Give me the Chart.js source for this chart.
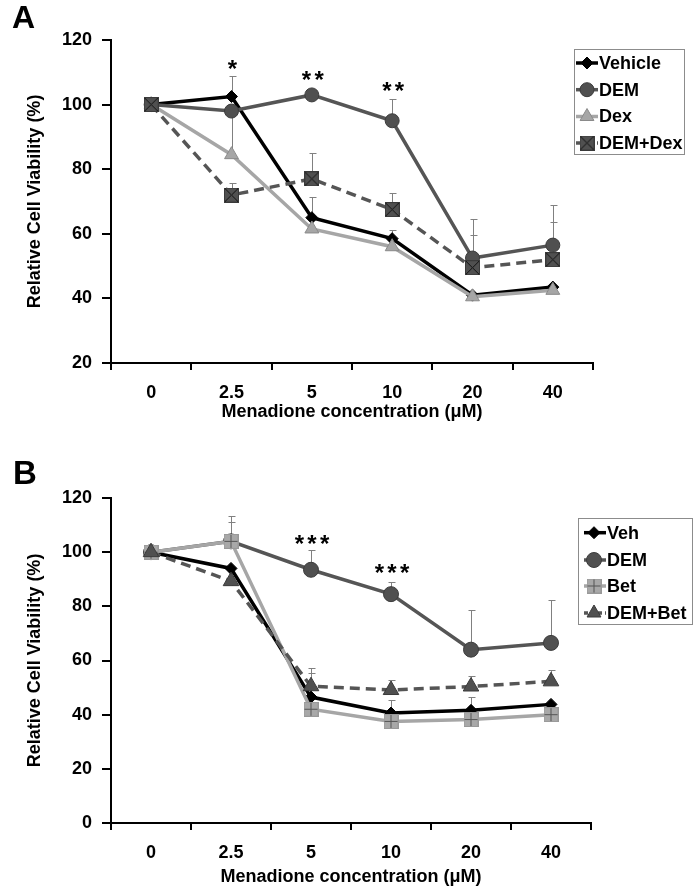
<!DOCTYPE html>
<html>
<head>
<meta charset="utf-8">
<script src="https://cdn.jsdelivr.net/npm/chart.js@4.4.1/dist/chart.umd.min.js"></script>
<style>
  html, body { margin: 0; padding: 0; background: #fff; }
  body { width: 693px; height: 893px; position: relative; overflow: hidden; }
  .panel { position: absolute; left: 0; }
  .letter { position: absolute; font-weight: bold; line-height: 32px; color: #000; }
</style>
</head>
<body>
<div class="panel" style="top:0px"><canvas id="chartA" width="693" height="440"></canvas></div>
<div class="panel" style="top:455px"><canvas id="chartB" width="693" height="438"></canvas></div>
<div class="letter" id="letA" style="left:12px; top:1px; font-size:32px;">A</div>
<div class="letter" id="letB" style="left:13px; top:457px; font-size:33px;">B</div>
<script>
// ---------------- DATA ----------------
const concentrations = ['0', '2.5', '5', '10', '20', '40'];

// Panel A
const vehicleA     = [100, 102.5, 65, 58.5, 41, 43.5];
const vehicleAErr  = [0, 6.5, 6.5, 2.7, 0, 0];
const demA         = [100, 98, 103, 95, 52.5, 56.5];
const demAErr      = [0, 0, 0, 6.7, 12, 12.5];
const dexA         = [100, 84.5, 61.5, 56, 40.5, 42.5];
const dexAErr      = [0, 14, 0, 0, 0, 0];
const demDexA      = [100, 72, 77, 67.5, 49.5, 52];
const demDexAErr   = [0, 3.7, 8, 5.2, 10.2, 11.6];
const starsA       = ['', '*', '**', '**', '', ''];
const starLevelA   = [null, 113, 109.6, 106.2, null, null];

// Panel B
const vehB         = [100, 94, 46.5, 40.6, 41.6, 43.8];
const vehBErr      = [0, 0, 9, 4.7, 5, 0];
const demB         = [100, 104, 93.5, 84.5, 64, 66.5];
const demBErr      = [0, 7.2, 7.2, 4.5, 14.6, 15.8];
const betB         = [100, 104, 42, 37.5, 38.2, 40];
const betBErr      = [0, 9.3, 0, 0, 0, 0];
const demBetB      = [100, 89.3, 50.5, 49.1, 50.4, 52.3];
const demBetBErr   = [0, 0, 6.7, 3.7, 4, 4.3];
const starsB       = ['', '', '***', '***', '', ''];
const starLevelB   = [null, null, 105.4, 94.6, null, null];

// ---------------- FONT CHOICE ----------------
function hasFont(name) {
  const g = document.createElement('canvas').getContext('2d');
  const s = 'DEM+Dex Vehicle 120';
  g.font = 'bold 50px monospace';
  const a = g.measureText(s).width;
  g.font = 'bold 50px "' + name + '", monospace';
  const b = g.measureText(s).width;
  return Math.abs(a - b) > 0.5;
}
const NARROW = hasFont('Liberation Sans Narrow');
const FAMILY = NARROW ? '"Liberation Sans Narrow", "Liberation Sans", sans-serif' : '"Liberation Sans", Arial, sans-serif';
const SZ_TICK = NARROW ? 20 : 18;
const SZ_TITLE = NARROW ? 21 : 18;
const SZ_LEG = NARROW ? 20 : 18;
document.getElementById('letA').style.fontFamily = FAMILY;
document.getElementById('letB').style.fontFamily = FAMILY;
if (NARROW) {
  document.getElementById('letA').style.fontSize = '34px';
  document.getElementById('letB').style.fontSize = '35px';
}

const DARK = '#555555';
const LIGHT = '#a6a6a6';

function markerCanvas(size, fill, border, mark, markColor) {
  const c = document.createElement('canvas');
  c.width = size; c.height = size;
  const g = c.getContext('2d');
  g.fillStyle = fill;
  g.fillRect(0, 0, size, size);
  g.strokeStyle = border; g.lineWidth = 1;
  g.strokeRect(0.5, 0.5, size - 1, size - 1);
  g.strokeStyle = markColor; g.lineWidth = 1;
  g.beginPath();
  if (mark === 'x') {
    g.moveTo(1, 1); g.lineTo(size - 1, size - 1);
    g.moveTo(size - 1, 1); g.lineTo(1, size - 1);
  } else {
    const m = size / 2;
    g.moveTo(m, 1); g.lineTo(m, size - 1);
    g.moveTo(1, m); g.lineTo(size - 1, m);
  }
  g.stroke();
  return c;
}
const squareX = markerCanvas(15, '#505050', '#3a3a3a', 'x', '#111');
const squarePlus = markerCanvas(15, '#a8a8a8', '#999', '+', '#555');

function series(label, data, errors, o) {
  return Object.assign({
    label, data, errors,
    borderWidth: 3.5,
    pointBorderWidth: 1,
    pointHoverRadius: 0,
    tension: 0,
    fill: false,
  }, o);
}

// ---------------- PLUGINS ----------------
const errorBars = {
  id: 'errorBars',
  beforeDatasetsDraw(chart) {
    const { ctx } = chart;
    const y = chart.scales.y;
    chart.data.datasets.forEach((ds, di) => {
      if (!ds.errors) return;
      const meta = chart.getDatasetMeta(di);
      ctx.save();
      ctx.strokeStyle = '#808080';
      ctx.lineWidth = 1;
      ds.errors.forEach((e, i) => {
        if (!e) return;
        const pt = meta.data[i];
        const x = Math.round(pt.x) + 0.5;
        const y0 = y.getPixelForValue(ds.data[i]);
        const y1 = Math.round(y.getPixelForValue(ds.data[i] + e)) + 0.5;
        ctx.beginPath();
        ctx.moveTo(x, y0); ctx.lineTo(x, y1);
        ctx.moveTo(x - 3, y1); ctx.lineTo(x + 4, y1);
        ctx.stroke();
      });
      ctx.restore();
    });
  }
};

const stars = {
  id: 'stars',
  afterDatasetsDraw(chart, args, opts) {
    if (!opts || !opts.labels) return;
    const { ctx } = chart;
    const xs = chart.scales.x, ys = chart.scales.y;
    ctx.save();
    ctx.fillStyle = '#000';
    ctx.font = 'bold 24px "Liberation Sans", Arial, sans-serif';
    ctx.textAlign = 'center';
    ctx.textBaseline = 'alphabetic';
    const pitch = 12.7;
    opts.labels.forEach((s, i) => {
      if (!s) return;
      const x = xs.getPixelForValue(i);
      const yc = ys.getPixelForValue(opts.levels[i]);
      const n = s.length;
      for (let k = 0; k < n; k++) {
        const cx = x + 1 + (k - (n - 1) / 2) * pitch;
        ctx.fillText('*', cx, yc + 14);
      }
    });
    ctx.restore();
  }
};

const boxLegend = {
  id: 'boxLegend',
  afterDraw(chart, args, o) {
    if (!o || !o.box) return;
    const { ctx } = chart;
    ctx.save();
    ctx.strokeStyle = '#8c8c8c';
    ctx.lineWidth = 1;
    ctx.strokeRect(o.box[0] + 0.5, o.box[1] + 0.5, o.box[2], o.box[3]);
    chart.data.datasets.forEach((ds, i) => {
      const yy = o.rows[i];
      ctx.save();
      ctx.strokeStyle = ds.borderColor;
      ctx.lineWidth = ds.borderWidth;
      ctx.setLineDash(ds.borderDash ? [4, 3] : []);
      ctx.beginPath();
      ctx.moveTo(o.line[0], yy); ctx.lineTo(o.line[1], yy);
      ctx.stroke();
      ctx.restore();
      ctx.fillStyle = ds.pointBackgroundColor;
      ctx.strokeStyle = ds.pointBorderColor;
      ctx.lineWidth = ds.pointBorderWidth;
      const r = (ds.legendRadius || ds.pointRadius);
      Chart.helpers.drawPoint(ctx, {
        pointStyle: ds.pointStyle, radius: r, rotation: 0, borderWidth: ds.pointBorderWidth
      }, o.marker, yy);
      ctx.fillStyle = '#000';
      ctx.font = 'bold ' + SZ_LEG + 'px ' + FAMILY;
      ctx.textAlign = 'left';
      ctx.textBaseline = 'middle';
      ctx.fillText(ds.label, o.textX, yy + 1);
    });
    ctx.restore();
  }
};

// ---------------- CHART FACTORY ----------------
function axisFont(size) { return { family: FAMILY, size: size, weight: 'bold' }; }

function buildChart(id, datasets, yMin, pad, xH, legendOpts, starOpts) {
  return new Chart(document.getElementById(id), {
    type: 'line',
    data: { labels: concentrations, datasets },
    plugins: [errorBars, stars, boxLegend],
    options: {
      responsive: false,
      animation: false,
      devicePixelRatio: 1,
      layout: { padding: pad },
      plugins: {
        legend: { display: false },
        tooltip: { enabled: false },
        boxLegend: legendOpts,
        stars: starOpts,
      },
      scales: {
        x: {
          type: 'category',
          offset: true,
          grid: { offset: true, drawOnChartArea: false, drawTicks: true, tickLength: 7, color: '#000', lineWidth: 2 },
          border: { display: true, color: '#000', width: 2 },
          ticks: { color: '#000', font: axisFont(SZ_TICK), padding: NARROW ? 11 : 12, maxRotation: 0, autoSkip: false },
          title: { display: true, text: 'Menadione concentration (μM)', color: '#000', font: axisFont(SZ_TITLE), padding: 0 },
          afterFit(s) { s.height = xH; }
        },
        y: {
          min: yMin, max: 120,
          grid: { drawOnChartArea: false, drawTicks: true, tickLength: 9, color: '#000', lineWidth: 2 },
          border: { display: true, color: '#000', width: 2 },
          ticks: { stepSize: 20, color: '#000', font: axisFont(SZ_TICK), padding: 10 },
          title: { display: true, text: 'Relative Cell Viability (%)', color: '#000', font: axisFont(SZ_TITLE), padding: { top: NARROW ? 2 : 4, bottom: 0 } },
          afterFit(s) { s.width = 91; }
        }
      }
    }
  });
}

// Panel A
buildChart('chartA', [
  series('Vehicle', vehicleA, vehicleAErr, {
    borderColor: '#000', pointStyle: 'rectRot', pointRadius: 6,
    pointBackgroundColor: '#000', pointBorderColor: '#000', order: 3
  }),
  series('DEM', demA, demAErr, {
    borderColor: DARK, pointStyle: 'circle', pointRadius: 7,
    pointBackgroundColor: '#505050', pointBorderColor: '#3c3c3c', order: 2
  }),
  series('Dex', dexA, dexAErr, {
    borderColor: LIGHT, pointStyle: 'triangle', pointRadius: 8,
    pointBackgroundColor: '#a6a6a6', pointBorderColor: '#8a8a8a', order: 1
  }),
  series('DEM+Dex', demDexA, demDexAErr, {
    borderColor: DARK, borderDash: [10, 6], pointStyle: squareX, pointRadius: 7,
    pointBackgroundColor: '#505050', pointBorderColor: '#3a3a3a', order: 0
  }),
], 20, { left: 20, top: 40, right: 100, bottom: 17 }, 60,
{ box: [574, 49, 110, 105], rows: [63, 89.7, 116.5, 143], line: [576, 598], marker: 587, textX: 599 },
{ labels: starsA, levels: starLevelA });

// Panel B
buildChart('chartB', [
  series('Veh', vehB, vehBErr, {
    borderColor: '#000', pointStyle: 'rectRot', pointRadius: 6,
    pointBackgroundColor: '#000', pointBorderColor: '#000', order: 3
  }),
  series('DEM', demB, demBErr, {
    borderColor: DARK, pointStyle: 'circle', pointRadius: 7.5,
    pointBackgroundColor: '#505050', pointBorderColor: '#3c3c3c', order: 2
  }),
  series('Bet', betB, betBErr, {
    borderColor: LIGHT, pointStyle: squarePlus, pointRadius: 7,
    pointBackgroundColor: '#a8a8a8', pointBorderColor: '#999', order: 1
  }),
  series('DEM+Bet', demBetB, demBetBErr, {
    borderColor: DARK, borderDash: [10, 6], pointStyle: 'triangle', pointRadius: 9,
    pointBackgroundColor: '#505050', pointBorderColor: '#3a3a3a', order: 0, legendRadius: 8
  }),
], 0, { left: 20, top: 43, right: 102, bottom: 5 }, 65,
{ box: [578, 63, 114, 106], rows: [77.7, 105, 131, 158], line: [584, 606], marker: 594, textX: 607 },
{ labels: starsB, levels: starLevelB });
</script>
</body>
</html>
